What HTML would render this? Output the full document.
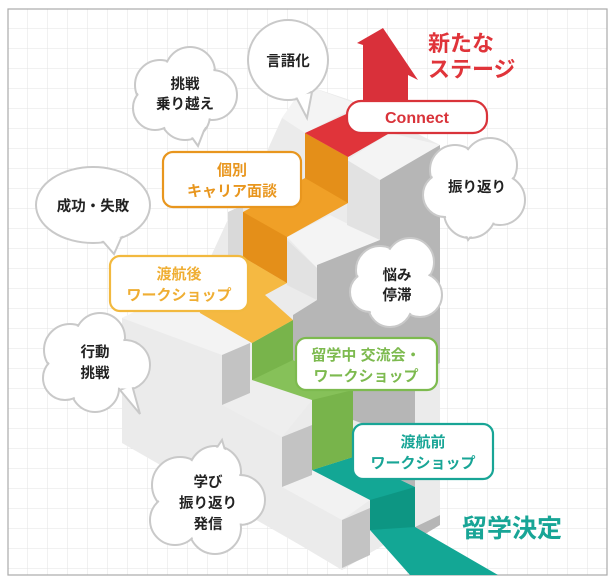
<!DOCTYPE html>
<html><head><meta charset="utf-8"><style>
html,body{margin:0;padding:0;background:#fff;width:613px;height:583px;overflow:hidden}
svg{display:block}
text{font-family:"Liberation Sans","Noto Sans CJK JP",sans-serif;font-weight:bold}
</style></head><body>
<svg width="613" height="583" viewBox="0 0 613 583" xmlns="http://www.w3.org/2000/svg">
<defs>
<pattern id="g" x="8" y="9" width="20" height="20" patternUnits="userSpaceOnUse">
<path d="M20 0V20M0 20H20" fill="none" stroke="#e3e3e3" stroke-width="1"/>
</pattern>
</defs>
<rect x="8" y="9" width="599" height="566" fill="url(#g)" stroke="#aaa" stroke-width="1.2"/>

<polygon points="122,318 200,280 230,215 245,200 282,118 305,85 350,100 440,145 440,515 415,527 370,553 342,570 300,545 122,443" fill="#ebebeb"/>
<polygon points="122,318 200,280 250,300 250,343 222,355" fill="#f3f3f3"/>
<polygon points="222,355 250,343 312,372 312,400 282,437 222,405" fill="#eeeeee"/>
<polygon points="282,437 312,425 370,455 370,500 342,520 282,487" fill="#f2f2f2"/>
<polygon points="282,118 305,85 360,105 305,133" fill="#f4f4f4"/>
<polygon points="347,160 390,133 440,145 440,150 380,180" fill="#f4f4f4"/>
<polygon points="287,237 330,215 380,240 317,268" fill="#f4f4f4"/>
<polygon points="347,160 380,180 380,240 347,225" fill="#e2e2e2"/>
<polygon points="287,240 317,268 317,300 287,285" fill="#e2e2e2"/>
<polygon points="380,180 440,145 440,363 415,375 415,527 440,515 440,525 415,540 415,487 380,470 380,430 353,420 353,390 293,360 293,315 317,300 317,265 380,240" fill="#b6b6b6"/>
<polygon points="222,355 250,343 250,393 222,405" fill="#c3c3c3"/>
<polygon points="282,437 312,425 312,475 282,487" fill="#c3c3c3"/>
<polygon points="342,520 370,508 370,555 342,568" fill="#c3c3c3"/>
<polygon points="228,212 243,205 243,257 228,262" fill="#d9d9d9"/>

<polygon points="312,470 353,457 415,487 415,527 498,575 410,575 370,530 370,500" fill="#13a795"/>
<polygon points="370,500 415,487 415,527 370,530" fill="#0d9683"/>
<polygon points="252,343 293,320 293,360 353,390 353,457 312,470 312,400 252,380" fill="#86c159"/>
<polygon points="252,343 293,320 293,360 252,380" fill="#78b44b"/>
<polygon points="312,400 353,390 353,457 312,470" fill="#78b44b"/>
<polygon points="243,257 287,283 265,295 293,320 252,343 200,313 195,290" fill="#f5b942"/>
<polygon points="305,133 348,157 348,203 287,237 287,283 243,257 243,212 305,178" fill="#f0a027"/>
<polygon points="305,133 348,157 348,203 305,178" fill="#e48f19"/>
<polygon points="243,212 287,237 287,283 243,257" fill="#e48f19"/>
<polygon points="305,133 348,157 395,130 395,110 355,110" fill="#e0343a"/>
<polygon points="363,110 363,45 357,43 383,28 418,80 408,75 408,110" fill="#d9303a"/>

<g fill="#fff" stroke="#c9c9c9" stroke-width="2">
<circle cx="288" cy="60" r="40"/>
<polygon points="295,95 307,118 312,92" />
<ellipse cx="93" cy="205" rx="57" ry="38"/>
<polygon points="100,238 114,254 122,236"/>
<g><circle cx="160" cy="85" r="25"/><circle cx="190" cy="72" r="25"/><circle cx="212" cy="95" r="25"/><circle cx="185" cy="115" r="25"/><circle cx="155" cy="108" r="22"/><polygon points="188,132 198,146 205,128"/></g>
<g><circle cx="455" cy="170" r="25"/><circle cx="490" cy="165" r="27"/><circle cx="500" cy="200" r="25"/><circle cx="470" cy="212" r="26"/><circle cx="445" cy="195" r="22"/><polygon points="462,225 468,240 480,225"/></g>
<g><circle cx="380" cy="270" r="24"/><circle cx="410" cy="262" r="24"/><circle cx="420" cy="295" r="22"/><circle cx="390" cy="305" r="22"/><circle cx="370" cy="292" r="20"/></g>
<g><circle cx="70" cy="350" r="26"/><circle cx="100" cy="338" r="25"/><circle cx="125" cy="365" r="25"/><circle cx="95" cy="388" r="24"/><circle cx="65" cy="378" r="22"/><polygon points="120,390 140,414 132,385"/></g>
<g><circle cx="180" cy="485" r="28"/><circle cx="215" cy="472" r="26"/><circle cx="240" cy="500" r="25"/><circle cx="215" cy="528" r="26"/><circle cx="175" cy="520" r="25"/><polygon points="212,455 222,440 228,460"/></g>
</g>
<g fill="#fff">
<circle cx="288" cy="60" r="38.5"/>
<ellipse cx="93" cy="205" rx="55.5" ry="36.5"/>
<g><circle cx="160" cy="85" r="23.5"/><circle cx="190" cy="72" r="23.5"/><circle cx="212" cy="95" r="23.5"/><circle cx="185" cy="115" r="23.5"/><circle cx="155" cy="108" r="20.5"/><circle cx="183" cy="95" r="28"/></g>
<g><circle cx="455" cy="170" r="23.5"/><circle cx="490" cy="165" r="25.5"/><circle cx="500" cy="200" r="23.5"/><circle cx="470" cy="212" r="24.5"/><circle cx="445" cy="195" r="20.5"/><circle cx="473" cy="190" r="28"/></g>
<g><circle cx="380" cy="270" r="22.5"/><circle cx="410" cy="262" r="22.5"/><circle cx="420" cy="295" r="20.5"/><circle cx="390" cy="305" r="20.5"/><circle cx="370" cy="292" r="18.5"/><circle cx="395" cy="285" r="24"/></g>
<g><circle cx="70" cy="350" r="24.5"/><circle cx="100" cy="338" r="23.5"/><circle cx="125" cy="365" r="23.5"/><circle cx="95" cy="388" r="22.5"/><circle cx="65" cy="378" r="20.5"/><circle cx="95" cy="362" r="28"/></g>
<g><circle cx="180" cy="485" r="26.5"/><circle cx="215" cy="472" r="24.5"/><circle cx="240" cy="500" r="23.5"/><circle cx="215" cy="528" r="24.5"/><circle cx="175" cy="520" r="23.5"/><circle cx="207" cy="500" r="30"/></g>
</g>
<g font-size="14.5" fill="#222" text-anchor="middle">
<text x="288" y="66">言語化</text>
<text x="185" y="89">挑戦</text><text x="185" y="109">乗り越え</text>
<text x="93" y="211">成功・失敗</text>
<text x="477" y="192">振り返り</text>
<text x="397" y="280">悩み</text><text x="397" y="300">停滞</text>
<text x="95" y="357">行動</text><text x="95" y="378">挑戦</text>
<text x="208" y="487">学び</text><text x="208" y="508">振り返り</text><text x="208" y="529">発信</text>
</g>

<g fill="#fff" stroke-width="2.2">
<rect x="347" y="101" width="140" height="32" rx="14" stroke="#d9333a"/>
<rect x="163" y="152" width="138" height="55" rx="10" stroke="#e8961e"/>
<rect x="110" y="256" width="138" height="55" rx="10" stroke="#f2b93f"/>
<rect x="296" y="338" width="141" height="52" rx="10" stroke="#7dba4f"/>
<rect x="353" y="424" width="140" height="55" rx="10" stroke="#18a596"/>
</g>
<g font-size="15" text-anchor="middle">
<text x="417" y="123" fill="#d9333a" font-size="16">Connect</text>
<text x="232" y="175" fill="#e8961e">個別</text><text x="232" y="196" fill="#e8961e">キャリア面談</text>
<text x="179" y="279" fill="#efae33">渡航後</text><text x="179" y="300" fill="#efae33">ワークショップ</text>
<text x="366" y="360" fill="#7dba4f">留学中 交流会・</text><text x="366" y="381" fill="#7dba4f">ワークショップ</text>
<text x="423" y="447" fill="#18a596">渡航前</text><text x="423" y="468" fill="#18a596">ワークショップ</text>
</g>
<text x="428" y="51" font-size="22" fill="#e0343a">新たな</text>
<text x="428" y="77" font-size="22" fill="#e0343a">ステージ</text>
<text x="462" y="537" font-size="25" fill="#18a596">留学決定</text>
</svg>
</body></html>
